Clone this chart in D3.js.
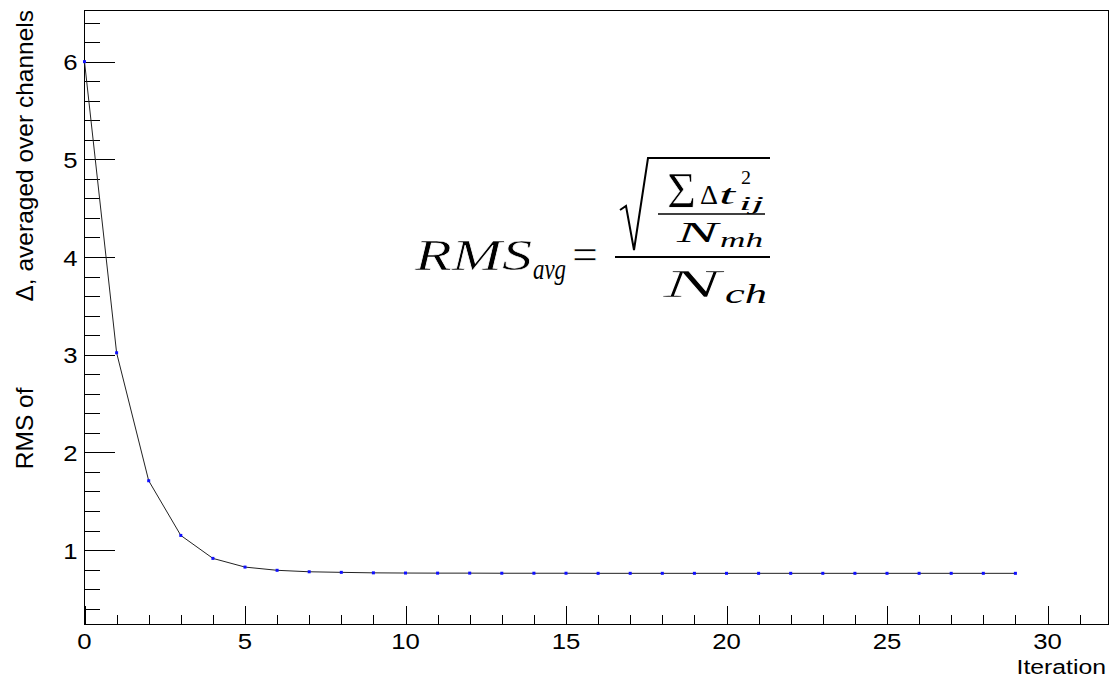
<!DOCTYPE html>
<html>
<head>
<meta charset="utf-8">
<script src="https://cdn.jsdelivr.net/npm/d3@7"></script>
<style>
  html, body { margin: 0; padding: 0; background: #fff; }
  svg { display: block; }
  .lbl { font-family: "Liberation Sans", Arial, Helvetica, sans-serif; fill: #000; }
  .math { font-family: "Liberation Serif", "Times New Roman", serif; font-style: italic; fill: #000; }
  .mathup { font-family: "Liberation Serif", "Times New Roman", serif; fill: #000; }
  .thin { stroke: #fff; stroke-width: 0.6px; }
</style>
</head>
<body>
<svg id="chart" width="1110" height="678"></svg>
<script>
// Convergence of the per-channel RMS over calibration iterations
const iterations = d3.range(0, 30);
const rmsValues = [
  6.00, 3.02, 1.71, 1.15, 0.915, 0.826, 0.793, 0.778, 0.772, 0.767,
  0.765, 0.764, 0.764, 0.763, 0.763, 0.763, 0.762, 0.762, 0.762, 0.762,
  0.762, 0.762, 0.762, 0.762, 0.762, 0.762, 0.762, 0.762, 0.762, 0.762
];
const xMajorTicks = [0, 5, 10, 15, 20, 25, 30];
const xMinorTicks = d3.range(0, 32);
const yMajorTicks = [1, 2, 3, 4, 5, 6];
const yMinorTicks = d3.range(0.4, 6.5, 0.2).map(v => +v.toFixed(1));
const xTitle = "Iteration";
const yTitleLead = "RMS of";
const yTitleRest = "\u0394, averaged over channels";

// Frame and axis ranges (ROOT-style padding: 10% around the data range)
const frame = { left: 84.5, right: 1108.5, top: 10.5, bottom: 624.5 };
const yMin = d3.min(rmsValues), yMax = d3.max(rmsValues);
const pad = 0.1 * (yMax - yMin);
const x = d3.scaleLinear().domain([0, 31.9]).range([frame.left, frame.right]);
const y = d3.scaleLinear().domain([yMin - pad, yMax + pad]).range([frame.bottom, frame.top]);

const svg = d3.select("#chart");
const labelStretch = 1.12;
const fontSize = 23;

// Axes with inward ticks
const gx = svg.append("g").attr("transform", `translate(0,${frame.bottom})`);
gx.call(d3.axisBottom(x).tickValues(xMinorTicks).tickSize(-9.5).tickFormat(""));
gx.call(g => g.select(".domain").remove());
const gxMaj = svg.append("g").attr("transform", `translate(0,${frame.bottom})`);
gxMaj.call(d3.axisBottom(x).tickValues(xMajorTicks).tickSize(-19).tickFormat(""));
gxMaj.call(g => g.select(".domain").remove());

const gy = svg.append("g").attr("transform", `translate(${frame.left},0)`);
gy.call(d3.axisLeft(y).tickValues(yMinorTicks).tickSize(-15).tickFormat(""));
gy.call(g => g.select(".domain").remove());
const gyMaj = svg.append("g").attr("transform", `translate(${frame.left},0)`);
gyMaj.call(d3.axisLeft(y).tickValues(yMajorTicks).tickSize(-30).tickFormat(""));
gyMaj.call(g => g.select(".domain").remove());

svg.selectAll(".tick line").attr("stroke", "#000").attr("stroke-width", 1).attr("shape-rendering", "crispEdges");

// Tick labels
svg.append("g").selectAll("g").data(xMajorTicks).join("g")
  .attr("transform", d => `translate(${x(d)},${frame.bottom + 24.5})`)
  .append("text").attr("class", "lbl")
  .attr("transform", `scale(${labelStretch},1)`)
  .attr("text-anchor", "middle").attr("font-size", fontSize)
  .text(d => d);

svg.append("g").selectAll("g").data(yMajorTicks).join("g")
  .attr("transform", d => `translate(${frame.left - 7},${y(d) + 8.5})`)
  .append("text").attr("class", "lbl")
  .attr("transform", `scale(${labelStretch},1)`)
  .attr("text-anchor", "end").attr("font-size", fontSize)
  .text(d => d);

// Axis titles
svg.append("g").attr("transform", `translate(1106,673.5)`)
  .append("text").attr("class", "lbl")
  .attr("transform", `scale(1.18,1)`)
  .attr("text-anchor", "end").attr("font-size", 21)
  .text(xTitle);

const yt = svg.append("g").attr("transform", `translate(33,${frame.top - 0.5}) rotate(-90)`)
  .append("text").attr("class", "lbl")
  .attr("text-anchor", "end").attr("font-size", 24.5);
yt.append("tspan").text(yTitleLead);
yt.append("tspan").attr("dx", 86).text(yTitleRest);

// Frame
svg.append("rect")
  .attr("x", frame.left).attr("y", frame.top)
  .attr("width", frame.right - frame.left).attr("height", frame.bottom - frame.top)
  .attr("fill", "none").attr("stroke", "#000").attr("stroke-width", 1)
  .attr("shape-rendering", "crispEdges");

// Graph line and markers
const pts = iterations.map((it, i) => [it, rmsValues[i]]);
svg.append("path")
  .attr("d", d3.line().x(d => x(d[0])).y(d => y(d[1]))(pts))
  .attr("fill", "none").attr("stroke", "#222").attr("stroke-width", 1);
svg.append("g").selectAll("rect").data(pts).join("rect")
  .attr("x", d => x(d[0]) - 1.5).attr("y", d => y(d[1]) - 1.5)
  .attr("width", 3).attr("height", 3).attr("fill", "#1010ff");

// Formula annotation: RMS_avg = sqrt(sum dt_ij^2 / N_mh) / N_ch
const f = svg.append("g");
function piece(cls, txt, x0, x1, base, size) {
  f.append("text").attr("class", size >= 40 ? cls + " thin" : cls)
    .attr("x", x0).attr("y", base)
    .attr("font-size", size)
    .attr("textLength", x1 - x0).attr("lengthAdjust", "spacingAndGlyphs")
    .text(txt);
}
piece("math", "RMS", 415, 532, 270, 44);
piece("math", "avg", 533, 566, 279, 30);
piece("mathup", "=", 572, 598, 269, 44);
f.append("line").attr("x1", 615).attr("x2", 770).attr("y1", 257).attr("y2", 257)
  .attr("stroke", "#000").attr("stroke-width", 2);
f.append("path")
  .attr("d", "M620,210 L626,206 L634,250 L648,158 L770,158")
  .attr("fill", "none").attr("stroke", "#000").attr("stroke-width", 2)
  .attr("stroke-linejoin", "miter");
piece("mathup", "\u03A3", 667, 696, 207, 50);
piece("mathup", "\u0394", 700, 718, 204, 28);
piece("math", "t", 719, 735, 204, 28);
piece("mathup", "2", 741, 751, 184, 19);
piece("math", "ij", 739, 764, 210, 19);
f.append("line").attr("x1", 658).attr("x2", 765).attr("y1", 214).attr("y2", 214)
  .attr("stroke", "#000").attr("stroke-width", 1.5);
piece("math", "N", 677, 718, 242, 30);
piece("math", "mh", 720, 763, 247, 20);
piece("math", "N", 663, 721, 297, 40);
piece("math", "ch", 725, 767, 303, 28);
</script>
</body>
</html>
